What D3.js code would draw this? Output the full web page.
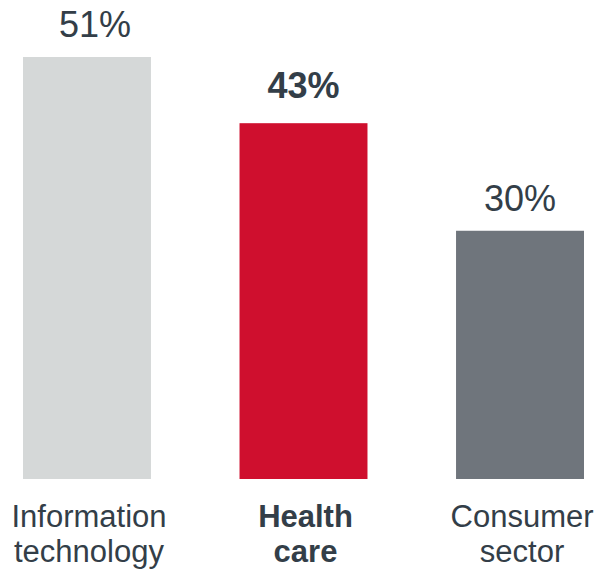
<!DOCTYPE html>
<html>
<head>
<meta charset="utf-8">
<script src="https://cdn.jsdelivr.net/npm/d3@7"></script>
<style>
    body { margin: 0; background: #fff; }
    text { font-family: "Liberation Sans", Arial, sans-serif; fill: #333e48; }
</style>
</head>
<body>
<div id="chart"></div>
<script>

// chart data
let categories = [["Information", "technology"], ["Health", "care"], ["Consumer", "sector"]];
let values = [51, 43, 30];
let colors = ["#d5d8d8", "#cf0f2e", "#6f757c"];
let highlighted = [false, true, false];

let width = 597, height = 569;

let svg = d3.select("#chart").append("svg")
    .attr("width", width)
    .attr("height", height);

let x = d3.scaleBand()
    .domain(d3.range(values.length))
    .range([23, 584])
    .paddingInner(0.409)
    .paddingOuter(0);

let y = d3.scaleLinear()
    .domain([0, 51])
    .range([479, 57]);

// bars
svg.selectAll(".bar")
    .data(values)
    .enter()
    .append("rect")
    .attr("class", "bar")
    .attr("x", (d, i) => x(i))
    .attr("y", d => y(d))
    .attr("width", x.bandwidth())
    .attr("height", d => y(0) - y(d))
    .attr("fill", (d, i) => colors[i]);

// value labels (first one sits a bit right of its bar in the original)
svg.selectAll(".value")
    .data(values)
    .enter()
    .append("text")
    .attr("class", "value")
    .attr("x", (d, i) => x(i) + x.bandwidth() / 2 + (i === 0 ? 8 : 0))
    .attr("y", (d, i) => y(d) - (highlighted[i] ? 25 : 20))
    .attr("text-anchor", "middle")
    .style("font-size", "36px")
    .style("font-weight", (d, i) => highlighted[i] ? "bold" : "normal")
    .text(d => d + "%");

// category labels
let labels = svg.selectAll(".cat")
    .data(categories)
    .enter()
    .append("text")
    .attr("class", "cat")
    .attr("x", (d, i) => x(i) + x.bandwidth() / 2 + 2)
    .attr("y", 527)
    .attr("text-anchor", "middle")
    .style("font-size", "31px")
    .style("font-weight", (d, i) => highlighted[i] ? "bold" : "normal");

labels.selectAll("tspan")
    .data(d => d)
    .enter()
    .append("tspan")
    .attr("x", function() { return d3.select(this.parentNode).attr("x"); })
    .attr("dy", (d, i) => i === 0 ? 0 : 35)
    .text(d => d);

</script>
</body>
</html>
